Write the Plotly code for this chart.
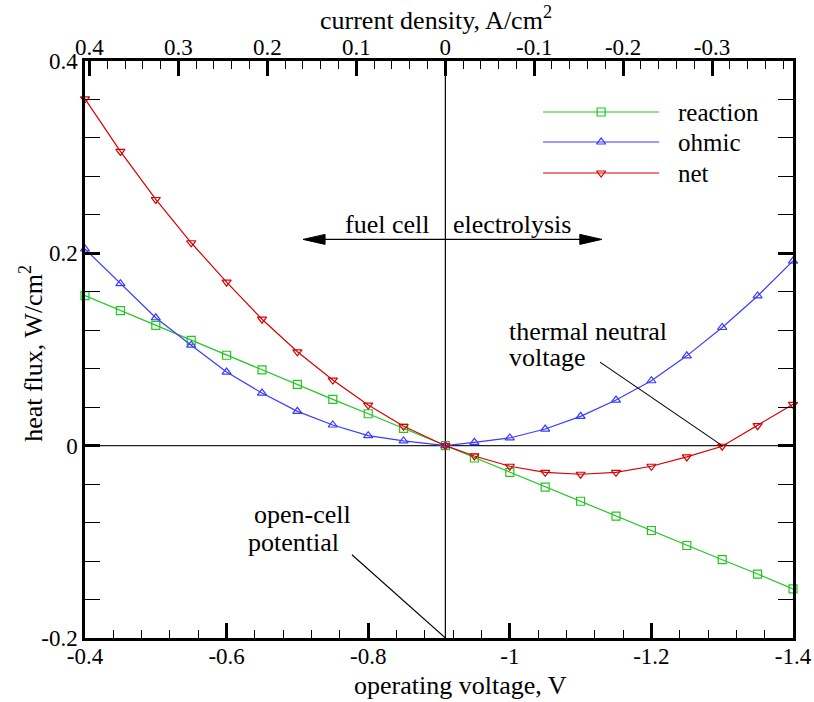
import plotly.graph_objects as go

# ---------------- data ----------------
voltage = [-0.4, -0.45, -0.5, -0.55, -0.6, -0.65, -0.7, -0.75, -0.8, -0.85, -0.909,
           -0.95, -1.0, -1.05, -1.1, -1.15, -1.2, -1.25, -1.3, -1.35, -1.4]
reaction = [0.156, 0.1405, 0.125, 0.1095, 0.094, 0.0789, 0.0637, 0.0481, 0.0332, 0.018, 0.0,
            -0.0128, -0.0277, -0.0432, -0.0578, -0.0733, -0.0882, -0.1038, -0.1186, -0.1335, -0.149]
ohmic = [0.2045, 0.1685, 0.133, 0.1045, 0.0765, 0.0547, 0.0357, 0.0215, 0.0104, 0.0049, 0.0,
         0.0035, 0.008, 0.0173, 0.0305, 0.0474, 0.0675, 0.0934, 0.1229, 0.1557, 0.192]
net = [0.3606, 0.306, 0.256, 0.211, 0.170, 0.1315, 0.0976, 0.0682, 0.0422, 0.0201, 0.0,
       -0.0107, -0.0214, -0.0277, -0.0297, -0.0277, -0.0214, -0.0117, -0.0006, 0.0208, 0.043]

x_tickvals = [-0.4, -0.6, -0.8, -1.0, -1.2, -1.4]
x_ticktext = ["-0.4", "-0.6", "-0.8", "-1", "-1.2", "-1.4"]
y_tickvals = [-0.2, 0.0, 0.2, 0.4]
y_ticktext = ["-0.2", "0", "0.2", "0.4"]
cd_tickvals = [0.4, 0.3, 0.2, 0.1, 0.0, -0.1, -0.2, -0.3]
cd_ticktext = ["0.4", "0.3", "0.2", "0.1", "0", "-0.1", "-0.2", "-0.3"]

open_cell_v = -0.909
thermal_neutral_v = -1.3
cd_range = [0.405, -0.391]   # current density at the left / right edges

series_names = ["reaction", "ohmic", "net"]
series_colors = ["#22c822", "#3c3cff", "#d80000"]
series_symbols = ["square-open", "triangle-up-open", "triangle-down-open"]
series_values = [reaction, ohmic, net]

FONT = "Liberation Serif"

fig = go.Figure()

for name, vals, col, sym in zip(series_names, series_values, series_colors, series_symbols):
    fig.add_trace(go.Scatter(
        x=voltage, y=vals, name=name, mode="lines+markers",
        line=dict(color=col, width=1.2),
        marker=dict(symbol=sym, size=8, color=col, line=dict(width=1.2, color=col)),
        showlegend=False, cliponaxis=False))

# custom legend (long sample lines) on hidden helper axes
leg_y = [0.9116, 0.8596, 0.8059]
for name, col, sym, yy in zip(series_names, series_colors, series_symbols, leg_y):
    fig.add_trace(go.Scatter(
        x=[0.647, 0.729, 0.811], y=[yy, yy, yy], mode="lines+markers",
        xaxis="x3", yaxis="y3",
        line=dict(color=col, width=1.2),
        marker=dict(symbol=sym, size=8, color=col, opacity=[0, 1, 0],
                    line=dict(width=1.2, color=col)),
        showlegend=False, hoverinfo="skip"))
    fig.add_annotation(x=0.835, y=yy, xref="x3", yref="y3", text=name,
                       showarrow=False, xanchor="left", yanchor="middle",
                       font=dict(family=FONT, size=25, color="black"))

axis_common = dict(showgrid=False, zeroline=False, color="black", automargin=False,
                   tickfont=dict(family=FONT, size=23, color="black"))

fig.update_layout(
    width=814, height=702,
    margin=dict(l=85, r=21, t=61, b=64),
    paper_bgcolor="white", plot_bgcolor="white",
    showlegend=False,
    font=dict(family=FONT, color="black"),
    xaxis=dict(range=[-0.4, -1.4], tickvals=x_tickvals, ticktext=x_ticktext,
               ticks="inside", ticklen=15, tickwidth=2.5, tickcolor="black",
               ticklabelstandoff=-4,
               showline=True, linewidth=2.5, linecolor="black", mirror=True,
               minor=dict(ticks="inside", ticklen=8, tickwidth=1.2, tickcolor="black",
                          tick0=-0.4, dtick=0.04),
               **axis_common),
    xaxis2=dict(range=cd_range, overlaying="x", side="top", anchor="y",
                tickvals=cd_tickvals, ticktext=cd_ticktext,
                ticks="inside", ticklen=15, tickwidth=2.5, tickcolor="black",
                showline=False,
                minor=dict(ticks="inside", ticklen=8, tickwidth=1.2, tickcolor="black",
                           tick0=0, dtick=0.02),
                **axis_common),
    yaxis=dict(range=[-0.2, 0.4], tickvals=y_tickvals, ticktext=y_ticktext,
               ticks="inside", ticklen=15, tickwidth=2.5, tickcolor="black",
               showline=True, linewidth=2.5, linecolor="black", mirror="allticks",
               minor=dict(ticks="inside", ticklen=8, tickwidth=1.2, tickcolor="black",
                          tick0=-0.2, dtick=0.04),
               **axis_common),
    xaxis3=dict(range=[0, 1], overlaying="x", visible=False, fixedrange=True),
    yaxis3=dict(range=[0, 1], overlaying="y", visible=False, fixedrange=True),
)

# dummy trace so the top axis is always drawn
fig.add_trace(go.Scatter(x=[cd_range[0]], y=[None], xaxis="x2", yaxis="y",
                         showlegend=False, hoverinfo="skip", mode="markers"))

shapes = [
    # zero heat flux line and open-cell potential line
    dict(type="line", xref="x", yref="y", x0=-0.4, x1=-1.4, y0=0, y1=0,
         line=dict(color="#222222", width=1.2), layer="below"),
    dict(type="line", xref="x", yref="y", x0=open_cell_v, x1=open_cell_v, y0=-0.2, y1=0.4,
         line=dict(color="black", width=1.2), layer="below"),
    # double arrow fuel cell / electrolysis
    dict(type="line", xref="x", yref="y", x0=-0.715, x1=-1.123, y0=0.2145, y1=0.2145,
         line=dict(color="black", width=1.3)),
    dict(type="path", xref="x", yref="y", xsizemode="pixel", ysizemode="pixel",
         xanchor=-0.708, yanchor=0.2145, path="M0,0 L22,5 L22,-5 Z",
         fillcolor="black", line=dict(color="black", width=1)),
    dict(type="path", xref="x", yref="y", xsizemode="pixel", ysizemode="pixel",
         xanchor=-1.130, yanchor=0.2145, path="M0,0 L-22,5 L-22,-5 Z",
         fillcolor="black", line=dict(color="black", width=1)),
    # pointer lines
    dict(type="line", xref="x", yref="y", x0=-0.777, y0=-0.1134, x1=open_cell_v, y1=-0.2,
         line=dict(color="black", width=1.1)),
    dict(type="line", xref="x", yref="y", x0=-1.1274, y0=0.0869, x1=thermal_neutral_v, y1=0.0,
         line=dict(color="black", width=1.1)),
]
fig.update_layout(shapes=shapes)

def txt(x, y, s, xanchor="left", size=26, xref="x", yref="y", angle=0, yanchor="middle"):
    fig.add_annotation(x=x, y=y, xref=xref, yref=yref, text=s, showarrow=False,
                       xanchor=xanchor, yanchor=yanchor, textangle=angle, borderpad=0,
                       font=dict(family=FONT, size=size, color="black"))

txt(-0.8873, 0.230, "fuel cell", xanchor="right")
txt(-0.9184, 0.230, "electrolysis", xanchor="left")
txt(-0.9975, 0.119, "thermal neutral")
txt(-0.9975, 0.0915, "voltage")
txt(-0.6373, -0.072, "open-cell")
txt(-0.6288, -0.101, "potential")

# axis titles
txt(0.531, -0.1092, "operating voltage, V", xanchor="center", xref="paper", yref="paper",
    size=26, yanchor="bottom")
txt(0.496, 1.0745, "current density, A/cm<sup>2</sup>", xanchor="center", xref="paper", yref="paper")
txt(-0.075, 0.494, "heat flux, W/cm<sup>2</sup>", xanchor="center", xref="paper", yref="paper", angle=-90)

fig.write_html("out.html", config={"displayModeBar": False},
               post_script="document.body.style.margin='0';document.body.style.overflow='hidden';")
